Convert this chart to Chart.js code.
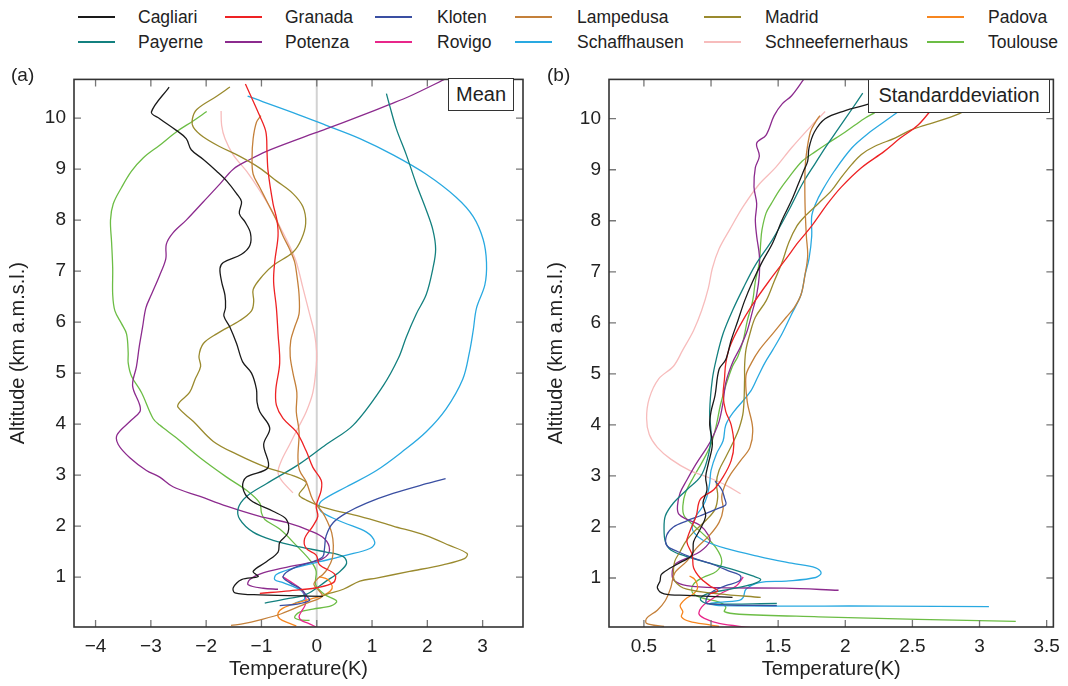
<!DOCTYPE html>
<html>
<head>
<meta charset="utf-8">
<script src="https://cdn.jsdelivr.net/npm/chart.js@4.4.0/dist/chart.umd.min.js"></script>
<style>
  body { margin: 0; background: #fff; width: 1068px; height: 686px; position: relative; overflow: hidden;
         font-family: 'Liberation Sans', Arial, sans-serif; color: #222; }
  .box { position: absolute; }
  .sw { position: absolute; height: 2px; width: 37px; }
  .tx { position: absolute; font-size: 17.5px; line-height: 20px; white-space: nowrap; }
  .tag { position: absolute; font-size: 19px; }
  .note { position: absolute; background: #fff; border: 1.5px solid #333; font-size: 20px;
          text-align: center; box-sizing: border-box; white-space: nowrap; }
</style>
</head>
<body>
<div id="legend"></div>
<div class="box" style="left:0;top:60px;width:540px;height:626px"><canvas id="meanChart"></canvas></div>
<div class="box" style="left:540px;top:60px;width:528px;height:626px"><canvas id="sdChart"></canvas></div>
<div class="tag" style="left:11px;top:64px">(a)</div>
<div class="tag" style="left:547px;top:64px">(b)</div>
<div class="note" style="left:448px;top:78px;width:66px;height:33px;line-height:30px">Mean</div>
<div class="note" style="left:868px;top:79px;width:182px;height:34px;line-height:31px">Standarddeviation</div>

<script>
// stations, in legend order
var stations = ['Cagliari', 'Granada', 'Kloten', 'Lampedusa', 'Madrid', 'Padova',
                'Payerne', 'Potenza', 'Rovigo', 'Schaffhausen', 'Schneefernerhaus', 'Toulouse'];
var colors = ['#1a1a1a', '#ee2224', '#3a4fa2', '#c4803a', '#9a8a2e', '#f7861f',
              '#13807f', '#8c2b8e', '#e8268a', '#29a9e1', '#f7bcbc', '#6cbd45'];

// mean temperature difference (K) vs altitude (km) : [T, z]
var meanCagliari = [[-2.67,10.61],[-2.99,10.12],[-2.84,9.99],[-2.54,9.76],[-2.36,9.6],[-2.27,9.38],[-2.05,9.19],[-1.81,8.96],[-1.63,8.77],[-1.45,8.52],[-1.36,8.36],[-1.40,8.13],[-1.30,7.97],[-1.20,7.75],[-1.21,7.5],[-1.36,7.33],[-1.69,7.17],[-1.75,7.05],[-1.72,6.79],[-1.66,6.53],[-1.65,6.28],[-1.68,6.12],[-1.57,5.90],[-1.45,5.58],[-1.34,5.22],[-1.18,5.0],[-1.09,4.68],[-1.08,4.43],[-1.03,4.24],[-0.85,3.92],[-0.96,3.60],[-0.88,3.15],[-1.27,2.96],[-1.34,2.77],[-1.20,2.51],[-0.79,2.29],[-0.55,2.13],[-0.52,1.87],[-0.67,1.68],[-0.70,1.49],[-0.91,1.30],[-1.15,1.11],[-1.06,1.01],[-1.36,0.95],[-1.51,0.79],[-1.48,0.69],[-1.03,0.65],[0.11,0.62]];
var meanGranada = [[-1.29,10.67],[-1.03,10.04],[-0.92,9.73],[-0.90,9.35],[-0.88,8.96],[-0.79,8.32],[-0.72,8.0],[-0.70,7.69],[-0.76,7.18],[-0.78,6.79],[-0.73,6.28],[-0.70,5.77],[-0.67,5.2],[-0.74,4.68],[-0.73,4.37],[-0.61,4.11],[-0.37,3.85],[-0.19,3.47],[-0.07,3.15],[0.08,2.9],[0.08,2.70],[-0.01,2.39],[0.02,2.19],[-0.07,2.0],[-0.22,1.75],[-0.19,1.56],[-0.01,1.43],[0.05,1.24],[0.33,1.05],[0.30,0.89],[-0.01,0.79],[-0.49,0.73],[-1.03,0.68]];
var meanKloten = [[2.33,2.93],[1.98,2.83],[1.38,2.64],[0.90,2.45],[0.54,2.26],[0.30,2.07],[0.17,1.81],[0.14,1.56],[0.11,1.40],[-0.07,1.30],[-0.43,1.17],[-0.61,1.01],[-0.49,0.89],[-0.28,0.76],[-0.16,0.60],[-0.13,0.54],[-0.35,0.47],[-0.67,0.44]];
var meanLampedusa = [[-1.01,10.05],[-1.09,9.92],[-1.15,9.6],[-1.17,9.22],[-1.15,8.90],[-1.03,8.64],[-0.88,8.32],[-0.73,8.0],[-0.61,7.69],[-0.49,7.43],[-0.40,7.18],[-0.36,6.92],[-0.32,6.54],[-0.32,6.16],[-0.40,5.90],[-0.47,5.64],[-0.48,5.33],[-0.43,5.0],[-0.36,4.62],[-0.37,4.24],[-0.32,3.85],[-0.34,3.34],[-0.31,3.09],[-0.19,2.87],[-0.07,2.51],[0.11,2.26],[0.20,2.07],[0.27,1.87],[0.30,1.62],[0.28,1.36],[0.20,1.17],[0.11,1.05],[0.0,0.95],[-0.05,0.85],[0.05,0.72],[0.1,0.62],[-0.2,0.48],[-0.64,0.28],[-1.06,0.15],[-1.3,0.09],[-1.55,0.05]];
var meanMadrid = [[-1.57,10.61],[-1.81,10.43],[-2.17,10.17],[-2.25,9.98],[-2.23,9.82],[-2.05,9.63],[-1.75,9.44],[-1.39,9.25],[-1.03,9.02],[-0.73,8.77],[-0.43,8.52],[-0.25,8.26],[-0.20,7.94],[-0.28,7.62],[-0.43,7.37],[-0.79,7.11],[-0.97,6.92],[-1.15,6.64],[-1.14,6.41],[-1.18,6.22],[-1.39,6.03],[-1.81,5.77],[-2.05,5.58],[-2.13,5.33],[-2.10,5.13],[-2.20,4.88],[-2.30,4.62],[-2.48,4.43],[-2.51,4.33],[-2.23,4.05],[-1.87,3.66],[-1.45,3.41],[-0.91,3.15],[-0.43,2.99],[-0.19,2.86],[-0.22,2.77],[-0.32,2.61],[-0.19,2.51],[0.17,2.35],[0.78,2.19],[1.38,2.0],[1.98,1.81],[2.40,1.62],[2.72,1.46],[2.67,1.36],[2.28,1.24],[1.68,1.11],[1.08,0.98],[0.78,0.92],[0.48,0.76],[0.17,0.66],[0.11,0.63]];
var meanPadova = [[0.04,1.01],[0.20,0.95],[0.28,0.82],[0.25,0.73],[0.14,0.65],[-0.10,0.57],[-0.34,0.50],[-0.61,0.39],[-0.70,0.29],[-0.67,0.18],[-0.49,0.09],[-0.37,0.04]];
var meanPayerne = [[1.26,10.48],[1.32,10.24],[1.44,9.79],[1.62,9.28],[1.80,8.71],[1.98,8.20],[2.10,7.81],[2.15,7.43],[2.10,7.05],[1.98,6.54],[1.80,6.16],[1.62,5.71],[1.48,5.30],[1.20,4.75],[0.66,3.98],[0.17,3.60],[-0.31,3.22],[-0.91,2.83],[-1.27,2.58],[-1.42,2.35],[-1.39,2.13],[-1.15,1.88],[-0.79,1.72],[-0.31,1.59],[0.17,1.49],[0.48,1.40],[0.54,1.27],[0.42,1.11],[0.17,0.92],[-0.19,0.66],[-0.55,0.57],[-0.94,0.49]];
var meanPotenza = [[2.31,10.76],[1.68,10.43],[1.32,10.27],[0.78,10.04],[0.17,9.79],[-0.31,9.60],[-0.91,9.35],[-1.21,9.19],[-1.51,9.0],[-1.75,8.71],[-2.05,8.36],[-2.36,8.0],[-2.60,7.75],[-2.72,7.53],[-2.73,7.24],[-2.84,6.92],[-2.99,6.54],[-3.09,6.28],[-3.15,5.90],[-3.21,5.52],[-3.26,5.13],[-3.33,4.75],[-3.20,4.37],[-3.20,4.24],[-3.38,4.05],[-3.61,3.79],[-3.59,3.60],[-3.38,3.34],[-3.08,3.09],[-2.84,2.96],[-2.60,2.77],[-2.11,2.58],[-1.63,2.39],[-1.03,2.19],[-0.55,2.07],[-0.13,1.91],[0.14,1.75],[0.23,1.52],[0.11,1.36],[-0.19,1.27],[-0.55,1.19],[-0.97,1.08],[-1.21,0.95],[-1.24,0.85],[-0.97,0.78],[-0.70,0.76]];
var meanRovigo = [[-0.62,1.01],[-0.49,0.92],[-0.28,0.76],[-0.20,0.60],[-0.21,0.45],[-0.28,0.32],[-0.32,0.22],[-0.28,0.15],[-0.15,0.09],[-0.01,0.02]];
var meanSchaffhausen = [[-1.25,10.43],[-0.43,10.11],[0.17,9.86],[0.78,9.60],[1.38,9.28],[1.98,8.90],[2.52,8.45],[2.83,8.07],[3.01,7.62],[3.07,7.17],[3.04,6.73],[2.89,6.28],[2.83,5.84],[2.76,5.4],[2.64,4.88],[2.34,4.30],[1.98,3.85],[1.56,3.47],[1.08,3.09],[0.54,2.77],[0.11,2.51],[0.04,2.39],[0.11,2.26],[0.48,2.07],[0.90,1.88],[1.05,1.68],[0.96,1.56],[0.54,1.43],[0.05,1.30],[-0.43,1.17],[-0.73,1.05],[-0.76,0.95],[-0.61,0.89],[-0.28,0.73],[-0.22,0.57],[-0.37,0.50],[-0.43,0.46]];
var meanSchnee = [[-1.73,10.14],[-1.72,9.86],[-1.66,9.60],[-1.51,9.28],[-1.27,8.96],[-1.03,8.58],[-0.82,8.20],[-0.67,7.88],[-0.49,7.49],[-0.37,7.18],[-0.25,6.67],[-0.13,6.16],[-0.04,5.77],[0.0,5.4],[-0.01,5.13],[-0.07,4.62],[-0.19,4.24],[-0.34,3.92],[-0.49,3.60],[-0.64,3.28],[-0.70,3.06],[-0.64,2.90],[-0.43,2.65]];
var meanToulouse = [[-1.99,10.13],[-2.23,9.95],[-2.54,9.73],[-2.84,9.47],[-3.14,9.22],[-3.35,8.96],[-3.53,8.64],[-3.68,8.32],[-3.73,8.0],[-3.71,7.56],[-3.69,7.05],[-3.69,6.54],[-3.65,6.22],[-3.53,5.97],[-3.44,5.77],[-3.41,5.4],[-3.41,5.20],[-3.35,4.94],[-3.17,4.62],[-2.96,4.11],[-2.84,3.98],[-2.54,3.73],[-2.11,3.34],[-1.63,2.96],[-1.27,2.70],[-1.03,2.45],[-1.0,2.26],[-0.94,2.13],[-0.67,1.94],[-0.37,1.62],[-0.10,1.30],[-0.01,1.11],[-0.02,0.85],[0.14,0.66],[0.36,0.53],[0.27,0.44],[-0.07,0.37],[-0.31,0.31],[-0.40,0.21],[-0.31,0.16],[-0.13,0.15]];

// standard deviation (K) vs altitude (km) : [T, z]
var sdCagliari = [[2.60,10.61],[2.51,10.54],[2.30,10.40],[2.14,10.26],[2.0,10.16],[1.85,10.0],[1.77,9.74],[1.73,9.43],[1.72,9.17],[1.69,8.98],[1.65,8.72],[1.60,8.40],[1.53,8.02],[1.46,7.57],[1.38,7.19],[1.31,6.81],[1.25,6.43],[1.20,6.04],[1.15,5.66],[1.11,5.28],[1.06,5.09],[1.03,4.58],[1.0,4.26],[0.99,4.0],[1.01,3.62],[0.98,3.24],[0.96,2.98],[0.97,2.73],[0.94,2.47],[0.96,2.22],[0.92,1.96],[0.87,1.71],[0.86,1.45],[0.79,1.33],[0.70,1.20],[0.63,1.07],[0.62,0.94],[0.60,0.81],[0.65,0.69],[0.82,0.66],[1.16,0.62]];
var sdGranada = [[2.81,10.67],[2.77,10.54],[2.65,10.2],[2.54,9.87],[2.41,9.62],[2.29,9.36],[2.12,9.04],[1.97,8.66],[1.87,8.34],[1.75,7.90],[1.65,7.58],[1.56,7.26],[1.43,6.81],[1.31,6.36],[1.21,5.92],[1.14,5.53],[1.11,5.21],[1.10,4.90],[1.09,4.58],[1.11,4.26],[1.15,4.0],[1.17,3.62],[1.15,3.30],[1.09,2.98],[1.02,2.73],[0.92,2.54],[0.89,2.22],[0.84,1.90],[0.82,1.71],[0.86,1.45],[0.87,1.20],[0.92,1.0],[0.99,0.85],[1.05,0.75],[0.99,0.69]];
var sdKloten = [[1.03,2.90],[1.08,2.73],[1.10,2.57],[1.11,2.44],[1.04,2.35],[0.92,2.22],[0.82,2.12],[0.72,2.0],[0.67,1.84],[0.67,1.64],[0.75,1.52],[0.87,1.39],[1.02,1.26],[1.14,1.13],[1.22,1.04],[1.21,0.94],[1.11,0.85],[1.02,0.75],[0.97,0.62],[0.97,0.50],[1.49,0.46]];
var sdLampedusa = [[1.81,10.06],[1.78,9.94],[1.74,9.74],[1.71,9.30],[1.70,8.98],[1.70,8.34],[1.71,7.70],[1.72,7.32],[1.70,6.94],[1.67,6.55],[1.62,6.30],[1.56,6.11],[1.46,5.79],[1.36,5.47],[1.30,5.21],[1.26,4.96],[1.27,4.45],[1.31,3.94],[1.29,3.56],[1.22,3.30],[1.15,3.05],[1.11,2.86],[1.08,2.60],[1.09,2.35],[1.06,2.09],[0.99,1.84],[0.89,1.58],[0.82,1.33],[0.73,1.10],[0.70,0.81],[0.66,0.56],[0.60,0.37],[0.52,0.21],[0.52,0.11],[0.65,0.05]];
var sdMadrid = [[3.22,10.61],[3.16,10.54],[2.85,10.1],[2.59,9.87],[2.49,9.78],[2.37,9.62],[2.22,9.46],[2.12,9.30],[2.05,9.11],[1.97,8.85],[1.90,8.60],[1.80,8.34],[1.70,8.09],[1.64,7.90],[1.58,7.58],[1.53,7.19],[1.47,6.81],[1.41,6.43],[1.33,6.11],[1.29,5.79],[1.26,5.47],[1.25,5.15],[1.25,4.90],[1.24,4.26],[1.21,3.94],[1.17,3.69],[1.11,3.37],[1.06,3.11],[1.04,2.86],[1.05,2.60],[1.03,2.35],[0.97,2.15],[0.87,1.90],[0.81,1.71],[0.77,1.52],[0.73,1.33],[0.72,1.13],[0.73,0.94],[0.82,0.78],[1.06,0.69],[1.37,0.62]];
var sdPadova = [[0.84,1.04],[0.88,0.97],[0.90,0.81],[0.87,0.69],[0.81,0.59],[0.77,0.46],[0.79,0.34],[0.78,0.24],[0.84,0.15],[0.99,0.08],[1.06,0.05]];
var sdPayerne = [[2.13,10.50],[2.05,10.19],[1.95,9.81],[1.85,9.43],[1.78,9.14],[1.68,8.72],[1.58,8.21],[1.46,7.64],[1.33,7.13],[1.24,6.68],[1.16,6.24],[1.09,5.79],[1.04,5.30],[1.01,4.90],[0.99,4.26],[1.0,3.75],[0.97,3.30],[0.92,2.98],[0.82,2.73],[0.72,2.47],[0.66,2.22],[0.65,1.96],[0.66,1.71],[0.70,1.55],[0.82,1.42],[0.99,1.29],[1.16,1.17],[1.31,1.04],[1.37,0.97],[1.31,0.88],[1.14,0.78],[0.97,0.69],[0.92,0.59],[0.97,0.50],[1.49,0.50]];
var sdPotenza = [[1.69,10.77],[1.60,10.45],[1.53,10.29],[1.47,10.06],[1.41,9.68],[1.34,9.52],[1.36,9.27],[1.33,9.04],[1.32,8.66],[1.34,8.34],[1.33,8.02],[1.34,7.70],[1.36,7.32],[1.36,6.94],[1.34,6.55],[1.31,6.24],[1.27,5.85],[1.22,5.53],[1.16,5.22],[1.11,4.83],[1.09,4.45],[1.06,4.07],[1.01,3.75],[0.97,3.56],[0.89,3.24],[0.82,2.92],[0.77,2.67],[0.75,2.41],[0.76,2.25],[0.82,2.15],[0.92,2.03],[0.98,1.84],[0.99,1.71],[0.92,1.52],[0.82,1.39],[0.73,1.26],[0.71,1.07],[0.73,0.94],[0.82,0.85],[1.06,0.81],[1.55,0.80],[1.95,0.76]];
var sdRovigo = [[1.24,1.02],[1.19,0.85],[1.09,0.72],[0.99,0.56],[0.93,0.43],[0.91,0.30],[0.95,0.21],[1.06,0.11],[1.29,0.03]];
var sdSchaffhausen = [[2.55,10.43],[2.29,9.94],[2.17,9.71],[2.05,9.43],[1.92,8.98],[1.83,8.60],[1.78,8.34],[1.75,8.09],[1.75,7.70],[1.73,7.26],[1.70,6.94],[1.67,6.55],[1.60,6.17],[1.53,5.79],[1.46,5.47],[1.40,5.21],[1.35,4.95],[1.29,4.64],[1.17,4.26],[1.11,4.0],[1.09,3.69],[1.04,3.43],[1.0,3.11],[0.99,2.86],[0.97,2.60],[0.94,2.41],[0.89,2.22],[0.86,2.03],[0.87,1.90],[0.94,1.74],[1.11,1.58],[1.36,1.42],[1.60,1.29],[1.78,1.20],[1.82,1.10],[1.78,1.01],[1.56,0.94],[1.36,0.91],[1.26,0.78],[1.24,0.62],[1.21,0.56],[0.99,0.50],[1.06,0.46],[2.29,0.45],[3.07,0.44]];
var sdSchnee = [[1.85,10.14],[1.75,9.87],[1.60,9.43],[1.48,9.04],[1.36,8.72],[1.24,8.28],[1.14,7.83],[1.06,7.45],[1.01,7.07],[0.98,6.68],[0.93,6.24],[0.87,5.85],[0.79,5.47],[0.72,5.15],[0.61,4.90],[0.54,4.52],[0.52,4.13],[0.54,3.81],[0.60,3.56],[0.70,3.33],[0.84,3.11],[0.99,2.96],[1.11,2.82],[1.22,2.65]];
var sdToulouse = [[2.22,10.12],[2.14,10.0],[2.0,9.74],[1.87,9.52],[1.78,9.36],[1.68,9.17],[1.58,8.85],[1.51,8.60],[1.45,8.34],[1.41,8.15],[1.38,7.83],[1.37,7.57],[1.36,7.19],[1.33,6.81],[1.31,6.43],[1.27,6.04],[1.24,5.66],[1.20,5.34],[1.16,5.15],[1.11,4.77],[1.07,4.39],[1.04,4.0],[1.0,3.62],[0.94,3.30],[0.87,2.98],[0.81,2.67],[0.79,2.41],[0.80,2.22],[0.87,2.03],[0.95,1.84],[1.04,1.58],[1.08,1.33],[1.04,1.13],[0.94,1.01],[0.87,0.88],[0.86,0.72],[0.92,0.62],[1.06,0.53],[1.11,0.43],[1.10,0.34],[1.21,0.29],[1.80,0.24],[2.54,0.19],[3.27,0.15]];

var meanSeries = [meanCagliari, meanGranada, meanKloten, meanLampedusa, meanMadrid, meanPadova,
                  meanPayerne, meanPotenza, meanRovigo, meanSchaffhausen, meanSchnee, meanToulouse];
var sdSeries = [sdCagliari, sdGranada, sdKloten, sdLampedusa, sdMadrid, sdPadova,
                sdPayerne, sdPotenza, sdRovigo, sdSchaffhausen, sdSchnee, sdToulouse];

// legend (html, two rows of six)
var legLineX = [78, 225, 375, 515, 704, 927];
var legTextX = [138, 285, 437, 577, 765, 988];
var legend = document.getElementById('legend');
stations.forEach(function(name, i) {
    var col = i % 6, row = Math.floor(i / 6);
    var cy = row == 0 ? 17 : 42;
    var sw = document.createElement('div');
    sw.className = 'sw';
    sw.style.left = legLineX[col] + 'px';
    sw.style.top = (cy - 1) + 'px';
    sw.style.background = colors[i];
    legend.appendChild(sw);
    var tx = document.createElement('div');
    tx.className = 'tx';
    tx.style.left = legTextX[col] + 'px';
    tx.style.top = (cy - 10) + 'px';
    tx.textContent = name;
    legend.appendChild(tx);
});

var FONT = "'Liberation Sans', Arial, sans-serif";

// box around the plot, inward ticks, optional zero line
var frame = {
    id: 'frame',
    beforeDatasetsDraw: function(chart, args, opts) {
        if (!opts.zero) return;
        var ctx = chart.ctx, a = chart.chartArea;
        var x0 = chart.scales.x.getPixelForValue(0);
        ctx.save();
        ctx.strokeStyle = '#d2d2d2';
        ctx.lineWidth = 2;
        ctx.beginPath();
        ctx.moveTo(x0, a.top);
        ctx.lineTo(x0, a.bottom);
        ctx.stroke();
        ctx.restore();
    },
    afterDraw: function(chart) {
        var ctx = chart.ctx, a = chart.chartArea;
        var sx = chart.scales.x, sy = chart.scales.y;
        ctx.save();
        ctx.strokeStyle = '#777';
        ctx.lineWidth = 1.3;
        ctx.beginPath();
        sx.ticks.forEach(function(t) {
            var p = sx.getPixelForValue(t.value);
            ctx.moveTo(p, a.bottom); ctx.lineTo(p, a.bottom - 7);
            ctx.moveTo(p, a.top); ctx.lineTo(p, a.top + 7);
        });
        sy.ticks.forEach(function(t) {
            var p = sy.getPixelForValue(t.value);
            ctx.moveTo(a.left, p); ctx.lineTo(a.left + 7, p);
            ctx.moveTo(a.right, p); ctx.lineTo(a.right - 7, p);
        });
        ctx.stroke();
        ctx.strokeStyle = '#333';
        ctx.lineWidth = 1.6;
        ctx.strokeRect(a.left, a.top, a.right - a.left, a.bottom - a.top);
        ctx.restore();
    }
};

function fmt(v) {
    return v < 0 ? '\u2212' + Math.abs(v) : String(v);
}

function makeChart(id, series, xMin, xMax, xStep, yMin, yMax, yWidth, pad, yTitlePad, zero) {
    var datasets = stations.map(function(name, i) {
        return {
            label: name,
            data: series[i].map(function(p) { return {x: p[0], y: p[1]}; }),
            showLine: true,
            borderColor: colors[i],
            backgroundColor: colors[i],
            borderWidth: 1.3,
            pointRadius: 0,
            pointHoverRadius: 0,
            tension: 0.35,
            fill: false
        };
    });
    return new Chart(document.getElementById(id), {
        type: 'scatter',
        data: {datasets: datasets},
        options: {
            animation: false,
            responsive: true,
            maintainAspectRatio: false,
            devicePixelRatio: 1,
            layout: {padding: pad},
            plugins: {legend: {display: false}, tooltip: {enabled: false}, frame: {zero: zero}},
            scales: {
                x: {
                    type: 'linear', min: xMin, max: xMax,
                    grid: {display: false, drawTicks: false},
                    border: {display: false},
                    ticks: {stepSize: xStep, includeBounds: false, padding: 8, maxRotation: 0, autoSkip: false,
                            font: {family: FONT, size: 19}, color: '#222', callback: fmt},
                    title: {display: true, text: 'Temperature(K)', color: '#222',
                            font: {family: FONT, size: 20, lineHeight: 1.2}, padding: {top: 0, bottom: 5}},
                    afterFit: function(s) { s.height = 59; }
                },
                y: {
                    type: 'linear', min: yMin, max: yMax,
                    grid: {display: false, drawTicks: false},
                    border: {display: false},
                    ticks: {stepSize: 1, includeBounds: false, padding: 8, autoSkip: false,
                            font: {family: FONT, size: 19}, color: '#222', callback: fmt},
                    title: {display: true, text: 'Altitude (km a.m.s.l.)', color: '#222',
                            font: {family: FONT, size: 20, lineHeight: 1.2}, padding: {top: yTitlePad, bottom: 0}},
                    afterFit: function(s) { s.width = yWidth; }
                }
            }
        },
        plugins: [frame]
    });
}

makeChart('meanChart', meanSeries, -4.39, 3.73, 1, 0.02, 10.76, 74, {top: 6, right: 17, left: 0, bottom: 0}, 6, true);
makeChart('sdChart', sdSeries, 0.24, 3.55, 0.5, 0.04, 10.77, 69, {top: 7, right: 9, left: 0, bottom: 0}, 4, false);
</script>
</body>
</html>
